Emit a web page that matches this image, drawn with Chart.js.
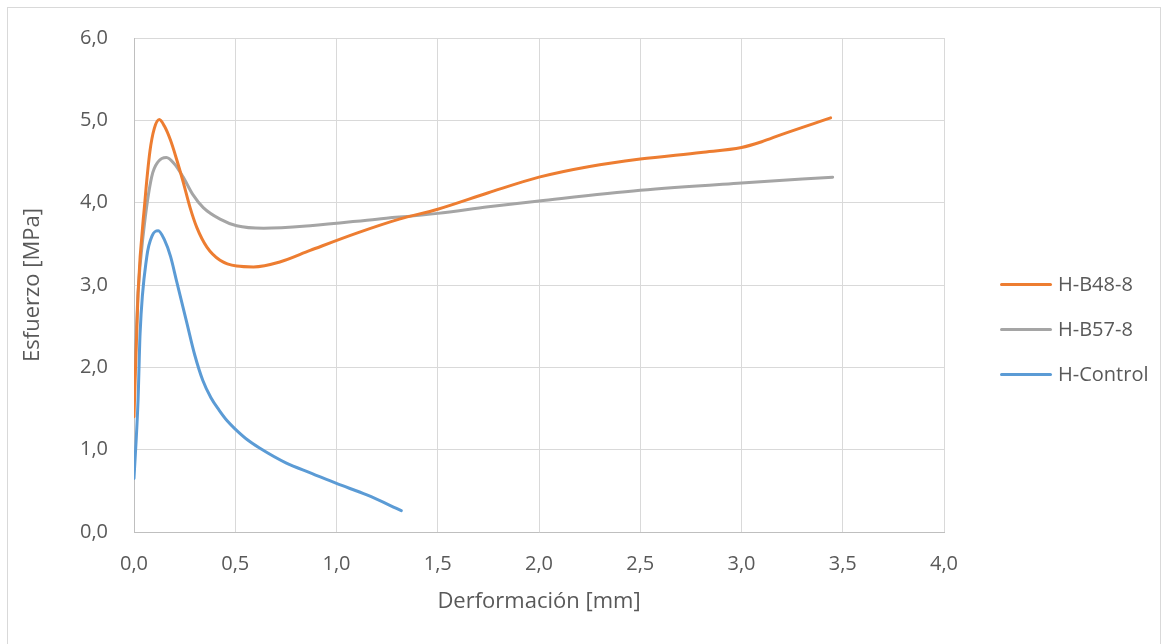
<!DOCTYPE html>
<html>
<head>
<meta charset="utf-8">
<script src="https://cdn.jsdelivr.net/npm/chart.js@4.4.1/dist/chart.umd.min.js"></script>
<style>
  html, body { margin: 0; padding: 0; background: #fff; }
  #wrap { position: relative; width: 1169px; height: 644px; overflow: hidden; }
  #frame { position: absolute; left: 7px; top: 7px; width: 1154px; height: 660px; border: 1px solid #d9d9d9; box-sizing: border-box; }
  #chart { position: absolute; left: 0; top: 0; }
  .legend { position: absolute; left: 1000px; font-family: "Open Sans", sans-serif; font-size: 20px; color: #595959; }
  .legend span.swatch { position: absolute; left: 0; width: 52px; height: 3px; border-radius: 2px; }
  .legend span.txt { position: absolute; left: 58px; top: -14px; white-space: nowrap; }
</style>
</head>
<body>
<div id="wrap">
  <div id="frame"></div>
  <canvas id="chart" width="1169" height="644"></canvas>
  <div id="legend"></div>
</div>
<script>
// Esfuerzo vs deformación por probeta

const seriesNames = ['H-B48-8', 'H-B57-8', 'H-Control'];
const seriesColors = ['#ED7D31', '#A5A5A5', '#5B9BD5'];

const b48X = [0, 0.02, 0.054, 0.079, 0.10, 0.125, 0.15, 0.18, 0.21, 0.243, 0.277, 0.31, 0.36, 0.425, 0.507, 0.59, 0.72, 0.87, 1.1, 1.31, 1.5, 1.75, 2.0, 2.25, 2.5, 2.8, 3.0, 3.1, 3.2, 3.44];
const b48Y = [1.4, 2.9, 4.02, 4.63, 4.9, 5.01, 4.93, 4.76, 4.53, 4.25, 3.94, 3.70, 3.46, 3.30, 3.23, 3.22, 3.28, 3.42, 3.63, 3.80, 3.92, 4.12, 4.31, 4.44, 4.53, 4.61, 4.67, 4.74, 4.83, 5.03];

const b57X = [0, 0.02, 0.046, 0.087, 0.12, 0.16, 0.20, 0.243, 0.29, 0.342, 0.425, 0.507, 0.64, 0.87, 1.2, 1.5, 1.75, 2.0, 2.5, 3.0, 3.45];
const b57Y = [1.7, 2.9, 3.62, 4.31, 4.5, 4.55, 4.47, 4.31, 4.10, 3.94, 3.80, 3.72, 3.69, 3.72, 3.80, 3.87, 3.95, 4.02, 4.15, 4.24, 4.31];

const ctrlX = [0, 0.02, 0.03, 0.063, 0.09, 0.12, 0.15, 0.18, 0.21, 0.26, 0.30, 0.34, 0.38, 0.42, 0.46, 0.50, 0.56, 0.62, 0.75, 0.88, 1.0, 1.15, 1.32];
const ctrlY = [0.65, 1.6, 2.41, 3.34, 3.6, 3.66, 3.55, 3.35, 3.05, 2.55, 2.15, 1.84, 1.63, 1.48, 1.35, 1.25, 1.12, 1.02, 0.84, 0.71, 0.59, 0.45, 0.26];

const xTicks = [0, 0.5, 1, 1.5, 2, 2.5, 3, 3.5, 4];
const yTicks = [0, 1, 2, 3, 4, 5, 6];

const toPoints = (xs, ys) => xs.map((x, i) => ({ x: x, y: ys[i] }));
const fmt = v => Number(v).toFixed(1).replace('.', ',');

const seriesData = [toPoints(b48X, b48Y), toPoints(b57X, b57Y), toPoints(ctrlX, ctrlY)];

const fontFamily = '"Open Sans", sans-serif';
const textColor = '#595959';

new Chart(document.getElementById('chart'), {
  type: 'scatter',
  data: {
    datasets: seriesNames.map((name, i) => ({
      label: name,
      data: seriesData[i],
      showLine: true,
      borderColor: seriesColors[i],
      backgroundColor: seriesColors[i],
      borderWidth: 3,
      pointRadius: 0,
      cubicInterpolationMode: 'monotone',
      borderCapStyle: 'round'
    }))
  },
  options: {
    responsive: false,
    devicePixelRatio: 1,
    animation: false,
    layout: { padding: { left: 0, top: 37, right: 225, bottom: 0 } },
    plugins: {
      legend: { display: false },
      tooltip: { enabled: false }
    },
    scales: {
      x: {
        type: 'linear',
        min: xTicks[0],
        max: xTicks[xTicks.length - 1],
        afterBuildTicks: s => { s.ticks = xTicks.map(v => ({ value: v })); },
        afterFit: s => { s.height = 112; },
        ticks: { padding: 20, maxRotation: 0, color: textColor, font: { family: fontFamily, size: 20 }, callback: fmt },
        grid: { color: '#D9D9D9', drawTicks: false },
        border: { color: '#BFBFBF' },
        title: { display: true, text: 'Derformación [mm]', color: textColor, font: { family: fontFamily, size: 22 }, padding: { bottom: 29 } }
      },
      y: {
        type: 'linear',
        min: yTicks[0],
        max: yTicks[yTicks.length - 1],
        afterBuildTicks: s => { s.ticks = yTicks.map(v => ({ value: v })); },
        afterFit: s => { s.width = 134; },
        ticks: { padding: 26, color: textColor, font: { family: fontFamily, size: 20 }, callback: fmt },
        grid: { color: '#D9D9D9', drawTicks: false },
        border: { color: '#BFBFBF' },
        title: { display: true, text: 'Esfuerzo [MPa]', color: textColor, font: { family: fontFamily, size: 22 }, padding: { top: 20 } }
      }
    }
  }
});

// leyenda a la derecha
const legendTops = [284, 329, 374];
const legend = document.getElementById('legend');
seriesNames.forEach((name, i) => {
  const row = document.createElement('div');
  row.className = 'legend';
  row.style.top = legendTops[i] + 'px';
  row.innerHTML = '<span class="swatch" style="top:-1px;background:' + seriesColors[i] + '"></span><span class="txt">' + name + '</span>';
  legend.appendChild(row);
});
</script>
</body>
</html>
